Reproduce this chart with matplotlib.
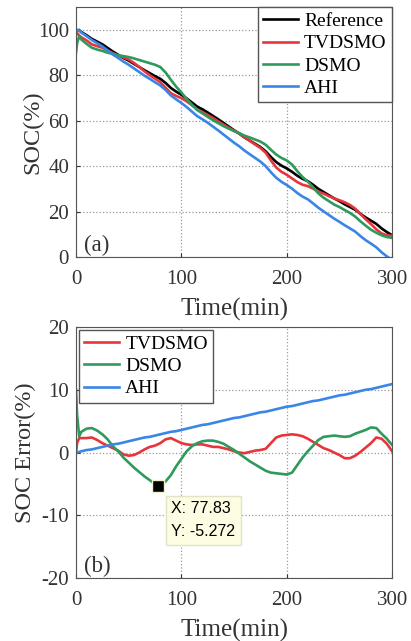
import numpy as np
import matplotlib
matplotlib.use("Agg")
from matplotlib import pyplot as plt

# time axis (min)
time = [0, 1, 3] + list(range(5, 305, 5))

# reference SOC (%)
soc_ref = [100, 100, 99.8, 99.0, 97.6, 96.0, 94.8, 93.6, 92.0, 90.4, 89.0, 87.6,
           86.4, 85.0, 83.6, 82.2, 80.9, 79.6, 78.4, 76.6, 74.4, 72.8, 71.4, 69.8,
           68.0, 66.2, 65.0, 63.6, 62.1, 60.6, 59.0, 57.4, 55.8, 54.3, 52.6, 51.2,
           49.8, 48.4, 46.5, 44.0, 41.8, 40.2, 39.0, 37.5, 35.8, 34.4, 33.4, 31.8,
           30.0, 28.6, 27.2, 25.8, 24.6, 23.2, 22.0, 20.8, 19.0, 17.4, 16.0, 14.6,
           12.6, 11.0, 9.6]

# estimation errors (%), reference minus estimate
err_tvdsmo = [0, 1.5, 2.3, 2.3, 2.3, 2.4, 2.0, 1.5, 1.1, 0.7, 0.3, -0.3, -0.5,
              -0.4, 0.0, 0.5, 0.9, 1.1, 1.5, 2.1, 2.3, 1.9, 1.5, 1.3, 1.2, 1.3,
              1.3, 1.1, 0.9, 0.9, 0.7, 0.5, 0.2, 0.0, -0.1, 0.1, 0.3, 0.4, 0.6,
              1.5, 2.4, 2.7, 2.8, 2.9, 2.8, 2.6, 2.2, 1.7, 1.2, 0.7, 0.4, 0.0,
              -0.4, -0.9, -0.9, -0.5, 0.1, 0.8, 1.5, 2.4, 2.2, 1.4, 0.2]
err_dsmo = [10, 6.0, 2.6, 3.3, 3.8, 3.9, 3.5, 2.9, 2.1, 1.0, 0.2, -0.8, -1.6,
            -2.4, -3.1, -3.8, -4.4, -5.0, -5.2, -4.6, -3.6, -2.2, -1.0, 0.2,
            1.0, 1.5, 1.8, 1.9, 1.9, 1.7, 1.4, 0.9, 0.4, -0.2, -0.8, -1.4, -1.9,
            -2.4, -2.9, -3.2, -3.3, -3.4, -3.5, -3.2, -2.0, -0.8, 0.2, 1.1, 2.0,
            2.5, 2.6, 2.7, 2.6, 2.5, 2.6, 3.0, 3.3, 3.6, 4.0, 3.9, 3.0, 2.2, 1.2]
err_ahi = [0, 0.0, 0.1, 0.2, 0.4, 0.5, 0.7, 0.9, 1.1, 1.3, 1.4, 1.6, 1.8, 2.0,
           2.2, 2.4, 2.5, 2.7, 2.9, 3.1, 3.3, 3.4, 3.6, 3.8, 4.0, 4.2, 4.4, 4.5,
           4.7, 4.9, 5.1, 5.3, 5.5, 5.6, 5.8, 6.0, 6.2, 6.4, 6.5, 6.7, 6.9, 7.1,
           7.3, 7.4, 7.6, 7.8, 8.0, 8.2, 8.3, 8.5, 8.7, 8.9, 9.1, 9.2, 9.4, 9.6,
           9.8, 10.0, 10.1, 10.3, 10.5, 10.7, 10.9]

tip_x, tip_y = 77.83, -5.272

c_red = '#e8353b'
c_green = '#2e9a5c'
c_blue = '#3a86e6'
c_axis = '#333333'

t = np.array(time)
ref = np.array(soc_ref)

plt.rcParams['font.family'] = ['Liberation Serif', 'DejaVu Serif']
plt.rcParams['axes.unicode_minus'] = False
plt.rcParams['axes.edgecolor'] = '#555555'
plt.rcParams['xtick.color'] = c_axis
plt.rcParams['ytick.color'] = c_axis

fig = plt.figure(figsize=(4.11, 6.41), dpi=100)
ax1 = fig.add_axes([0.185, 0.599, 0.769, 0.390])
ax2 = fig.add_axes([0.185, 0.098, 0.769, 0.392])

lw = 1.9
leg_kw = dict(fontsize=14, fancybox=False, framealpha=1, edgecolor='#555555',
              handlelength=1.8, handletextpad=0.3, labelspacing=0.24,
              borderpad=0.28)

ax1.plot(t[2:], ref[2:], color='black', lw=lw, label='Reference')
ax1.plot(t, ref - np.array(err_tvdsmo), color=c_red, lw=lw, label='TVDSMO')
ax1.plot(t, ref - np.array(err_dsmo), color=c_green, lw=lw, label='DSMO')
ax1.plot(t, ref - np.array(err_ahi), color=c_blue, lw=lw, label='AHI')
ax1.set_xlim(0, 300)
ax1.set_ylim(0, 110)
ax1.set_yticks([0, 20, 40, 60, 80, 100])
ax1.set_xticks([0, 100, 200, 300])
ax1.set_ylabel('SOC(%)', fontsize=17.5, color=c_axis, labelpad=-4)
ax1.set_xlabel('Time(min)', fontsize=18, color=c_axis, labelpad=7)
ax1.text(0.025, 0.025, '(a)', transform=ax1.transAxes, fontsize=16.5, color=c_axis)
ax1.legend(loc='upper right', borderaxespad=0.0, **leg_kw)

ax2.plot(t, err_tvdsmo, color=c_red, lw=lw, label='TVDSMO')
ax2.plot(t, err_dsmo, color=c_green, lw=lw, label='DSMO')
ax2.plot(t, err_ahi, color=c_blue, lw=lw, label='AHI')
ax2.plot([tip_x], [tip_y], marker='s', ms=8, color='black', mec='#f0f0d0', mew=1)
ax2.text(90.5, -10.8, 'X: %.2f\nY: %.3f' % (tip_x, tip_y), fontsize=11.5,
         family='Liberation Sans', va='center', ha='left', color='black',
         linespacing=1.65,
         bbox=dict(boxstyle='square,pad=0.35', fc='#fdfde3', ec='#e2e2c8'))
ax2.set_xlim(0, 300)
ax2.set_ylim(-20, 20)
ax2.set_yticks([-20, -10, 0, 10, 20])
ax2.set_xticks([0, 100, 200, 300])
ax2.set_ylabel('SOC Error(%)', fontsize=17.5, color=c_axis, labelpad=4)
ax2.set_xlabel('Time(min)', fontsize=18, color=c_axis, labelpad=7)
ax2.text(0.025, 0.025, '(b)', transform=ax2.transAxes, fontsize=16.5, color=c_axis)
ax2.legend(loc='upper left', borderaxespad=0.15, **leg_kw)

for ax in (ax1, ax2):
    ax.grid(True, linestyle=':', color='#999999', lw=0.9)
    ax.tick_params(direction='in', length=3, labelsize=15)
    ax.tick_params(axis='x', pad=9)
    ax.tick_params(axis='y', pad=5)

fig.savefig('out.png', dpi=100)
